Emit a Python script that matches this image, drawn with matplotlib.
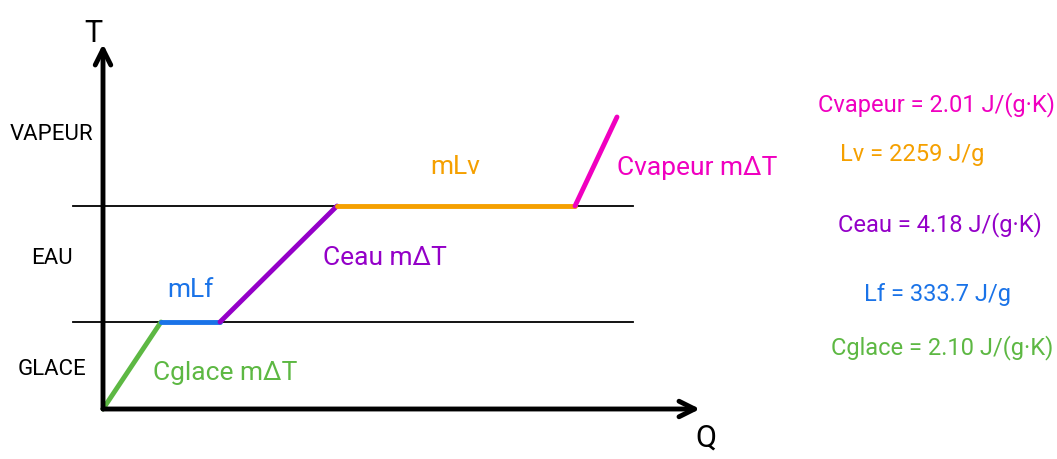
import matplotlib.pyplot as plt

# heating curve breakpoints (Q, T) in arbitrary units, origin at axes corner
q_pts = [0, 58, 117, 234, 472, 514]
t_pts = [0, 87, 87, 203, 203, 292]
seg_colors = ["#5db843", "#1a73e8", "#9400c8", "#f5a000", "#f000c0"]
seg_labels = ["Cglace mΔT", "mLf", "Ceau mΔT", "mLv", "Cvapeur mΔT"]

phases = ["GLACE", "EAU", "VAPEUR"]
phase_t = [40, 152, 275]
levels = [87, 203]

consts = ["Cvapeur = 2.01 J/(g·K)", "Lv = 2259 J/g", "Ceau = 4.18 J/(g·K)",
          "Lf = 333.7 J/g", "Cglace = 2.10 J/(g·K)"]
const_colors = ["#f000c0", "#f5a000", "#9400c8", "#1a73e8", "#5db843"]

plt.rcParams['font.family'] = ['Roboto', 'DejaVu Sans']

fig = plt.figure(figsize=(10.57, 4.60), dpi=100)
ax = fig.add_axes([0, 0, 1, 1])
ax.set_xlim(-103, 954)
ax.set_ylim(-50, 410)
ax.axis('off')

# axes arrows
arr = dict(arrowstyle='->', lw=3.5, color='black', mutation_scale=28, shrinkA=0, shrinkB=0)
ax.annotate('', xy=(0, 365), xytext=(0, 0), arrowprops=arr)
ax.annotate('', xy=(597, 0), xytext=(0, 0), arrowprops=arr)
ax.text(-10, 376, "T", fontsize=22, ha='center', va='center')
ax.text(603, -28, "Q", fontsize=22, ha='center', va='center')

# phase boundary lines
for lv in levels:
    ax.plot([-30, 530], [lv, lv], color='black', lw=1.3)

for name, t in zip(phases, phase_t):
    ax.text(-51, t, name, fontsize=16, ha='center', va='center')

# curve segments
for i in range(5):
    ax.plot(q_pts[i:i + 2], t_pts[i:i + 2], color=seg_colors[i], lw=3.5,
            solid_capstyle='round')

label_pos = [(122, 37), (87, 120), (282, 152), (352, 243), (594, 242)]
for (x, y), s, c in zip(label_pos, seg_labels, seg_colors):
    ax.text(x, y, s, color=c, fontsize=19, ha='center', va='center')

const_pos = [(834, 305), (809, 255), (837, 185), (834, 115), (839, 62)]
for (x, y), s, c in zip(const_pos, consts, const_colors):
    ax.text(x, y, s, color=c, fontsize=17, ha='center', va='center')

fig.savefig("out.png", dpi=100)
